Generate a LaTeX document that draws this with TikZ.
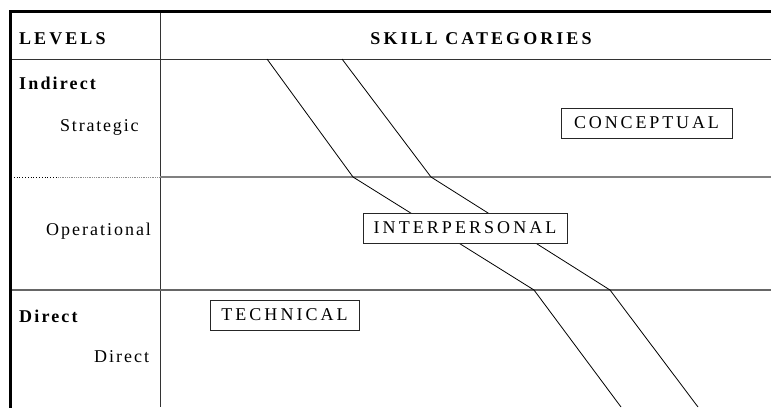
\documentclass[tikz,border=0pt]{standalone}
\usepackage{fontspec}
\setmainfont{Liberation Serif}
\newcommand{\lsp}[1]{\fontsize{18}{21}\selectfont\addfontfeature{LetterSpace=#1}}
\begin{document}
\begin{tikzpicture}[x=1pt,y=-1pt,
  lowtxt/.style={inner sep=0pt, anchor=base west, font=\lsp{10}},
  captxt/.style={inner sep=0pt, anchor=base west, font=\lsp{17}},
  boldlow/.style={inner sep=0pt, anchor=base west, font=\lsp{12}\bfseries},
  boldcap/.style={inner sep=0pt, anchor=base west, font=\lsp{17}\bfseries},
  catbox/.style={draw=black!85, line width=0.8pt, fill=white, inner sep=0pt,
                 minimum height=30pt, font=\lsp{17}},
  grid/.style={line width=0.8pt, draw=black!80},
  midline/.style={line width=1.3pt, draw=black!50},
  band/.style={line width=0.8pt, draw=black, line join=round}
]
\useasboundingbox (0,0) rectangle (771,407);

% frame and grid
\draw[grid] (10.5,59) -- (771,59);
\draw[grid] (160,11.5) -- (160,407);
\draw[line width=0.8pt, dotted, draw=black] (11,177) -- (58,177);
\draw[line width=0.8pt, densely dotted, draw=black!45] (58,177) -- (160,177);
\draw[midline] (160,177) -- (771,177);
\draw[midline, draw=black!60] (10.5,290) -- (771,290);
\draw[line width=3pt, line cap=rect] (10.5,407) -- (10.5,11.5) -- (771,11.5);

% band boundaries
\coordinate (a0) at (267,59);
\coordinate (a1) at (353,177);
\coordinate (a2) at (534,290);
\coordinate (a3) at (621,407);
\coordinate (b0) at (342,59);
\coordinate (b1) at (431,177);
\coordinate (b2) at (610,290);
\coordinate (b3) at (698,407);
\draw[band] (a0) -- (a1) -- (a2) -- (a3);
\draw[band] (b0) -- (b1) -- (b2) -- (b3);

% headers
\node[boldcap] (levels) at (19,44) {LEVELS};
\node[boldcap, anchor=base] (skills) at (481,44) {SKILL CATEGORIES};

% level labels
\node[boldlow] (indirect) at (19,89) {Indirect};
\node[lowtxt] (strategic) at (60,131) {Strategic};
\node[lowtxt, font=\lsp{11}] (operational) at (46,235) {Operational};
\node[boldlow] (directb) at (19,322) {Direct};
\node[lowtxt, font=\lsp{11}] (direct) at (94,362) {Direct};

% category boxes
\node[catbox, minimum width=171pt, font=\lsp{16}] (conceptual) at (646.5,123) {CONCEPTUAL};
\node[catbox, minimum width=204pt] (interpersonal) at (465,228) {INTERPERSONAL};
\node[catbox, minimum width=149pt] (technical) at (284.5,315) {TECHNICAL};
\end{tikzpicture}
\end{document}
